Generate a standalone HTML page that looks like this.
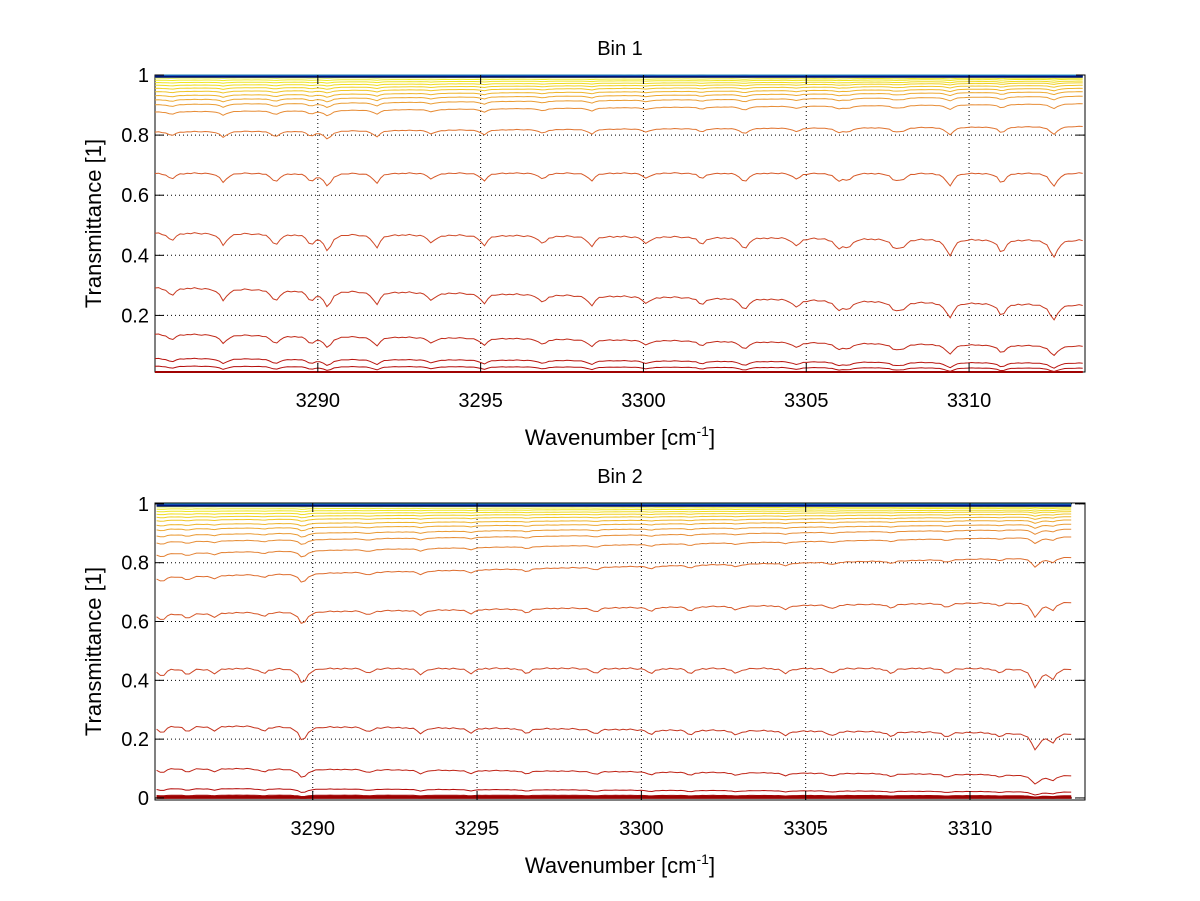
<!DOCTYPE html>
<html><head><meta charset="utf-8">
<style>
html,body{margin:0;padding:0;background:#fff;}
svg{display:block;font-family:"Liberation Sans",sans-serif;}
</style></head>
<body>
<svg id="fig" width="1200" height="901" viewBox="0 0 1200 901">
<rect width="1200" height="901" fill="#fff"/>
</svg>
<script>
// ---- data ----
const xTicks = [3290, 3295, 3300, 3305, 3310];
const yTicksTop = [0.2, 0.4, 0.6, 0.8, 1];
const yTicksBottom = [0, 0.2, 0.4, 0.6, 0.8, 1];
// curve baselines [start, end] (low -> high), Bin 1
const bin1Start = [0, 0.002, 0.006, 0.012, 0.032, 0.058, 0.14, 0.295, 0.477, 0.675, 0.812, 0.878, 0.902, 0.918, 0.932, 0.945, 0.956, 0.966, 0.975, 0.983, 0.99, 0.995, 0.998, 1, 1, 1];
const bin1End   = [0, 0.002, 0.005, 0.01, 0.025, 0.042, 0.099, 0.236, 0.452, 0.675, 0.83, 0.905, 0.93, 0.945, 0.956, 0.966, 0.974, 0.98, 0.986, 0.99, 0.994, 0.997, 0.999, 1, 1, 1];
// Bin 2
const bin2Start = [0, 0.002, 0.005, 0.01, 0.033, 0.103, 0.248, 0.442, 0.628, 0.753, 0.832, 0.872, 0.895, 0.915, 0.93, 0.945, 0.956, 0.966, 0.975, 0.983, 0.99, 0.995, 0.998, 1, 1, 1];
const bin2End   = [0, 0.002, 0.004, 0.008, 0.021, 0.078, 0.221, 0.442, 0.668, 0.82, 0.889, 0.915, 0.932, 0.946, 0.957, 0.966, 0.974, 0.98, 0.986, 0.99, 0.994, 0.997, 0.999, 1, 1, 1];
// absorption lines (wavenumber, relative depth)
const bin1LinePos = [3285.5, 3287.1, 3288.7, 3289.8, 3290.3, 3291.8, 3293.5, 3295.1, 3296.9, 3298.4, 3300.1, 3301.8, 3303.1, 3304.7, 3306.0, 3306.3, 3307.7, 3307.95, 3309.4, 3311.0, 3312.6];
const bin1LineDepth = [0.08, 0.12, 0.12, 0.1, 0.17, 0.13, 0.08, 0.1, 0.08, 0.1, 0.07, 0.07, 0.12, 0.08, 0.1, 0.08, 0.08, 0.08, 0.17, 0.13, 0.18];
const bin2LinePos = [3285.4, 3286.2, 3287.0, 3288.5, 3289.7, 3291.7, 3293.3, 3294.8, 3296.5, 3298.6, 3300.3, 3301.5, 3302.9, 3304.4, 3305.8, 3307.6, 3309.3, 3310.9, 3312.0, 3312.5];
const bin2LineDepth = [0.08, 0.06, 0.05, 0.05, 0.16, 0.05, 0.06, 0.05, 0.05, 0.05, 0.05, 0.05, 0.05, 0.05, 0.05, 0.05, 0.05, 0.04, 0.2, 0.1];
// small ripple (read approx)
const ripple = [0.02,-0.01,0.03,0.0,-0.02,0.02,0.01,-0.01,0.03,0.0,0.02,-0.02,0.01,0.03,-0.01,0.0,0.02,0.01,-0.02,0.02,0.0,0.03,-0.01,0.01,0.02,-0.02,0.0,0.03,0.01,-0.01];

// colour palette stops (level -> colour), style only
const colStops = [[0,[150,0,0]],[0.02,[180,10,10]],[0.1,[192,40,24]],[0.3,[200,60,34]],[0.5,[208,76,40]],[0.7,[216,92,40]],[0.82,[224,116,48]],[0.9,[232,144,56]],[0.94,[238,176,48]],[0.97,[240,216,32]],[0.99,[236,240,40]],[0.999,[160,220,120]]];
const topColors = ['rgb(40,170,220)','rgb(20,80,200)','rgb(0,20,120)'];

const NS = 'http://www.w3.org/2000/svg';
const svg = document.getElementById('fig');
function mk(tag, attrs, parent){ const e=document.createElementNS(NS,tag); for(const k in attrs) e.setAttribute(k,attrs[k]); (parent||svg).appendChild(e); return e; }

function levelColor(v){
  for(let i=1;i<colStops.length;i++){
    if(v<=colStops[i][0]){
      const a=colStops[i-1], b=colStops[i]; const f=(v-a[0])/(b[0]-a[0]);
      const c=a[1].map((x,j)=>Math.round(x+(b[1][j]-x)*f));
      return `rgb(${c[0]},${c[1]},${c[2]})`;
    }
  }
  const c=colStops[colStops.length-1][1]; return `rgb(${c[0]},${c[1]},${c[2]})`;
}

function drawPanel(cfg){
  const {L,R,T,B,xmin,xmax,ymin,ymax,title,yTicks,starts,ends,linePos,lineDepth,dataMin,dataMax,name} = cfg;
  const g = mk('g',{});
  
  
  const sx = v => L + (v-xmin)/(xmax-xmin)*(R-L);
  const sy = v => B - (v-ymin)/(ymax-ymin)*(B-T);
  xTicks.forEach(t=>{ const l=mk('line',{x1:sx(t),x2:sx(t),y1:T,y2:B,stroke:'#000','stroke-width':1,'stroke-dasharray':'1,3'},g);
      });
  yTicks.forEach(t=>{ const l=mk('line',{x1:L,x2:R,y1:sy(t),y2:sy(t),stroke:'#000','stroke-width':1,'stroke-dasharray':'1,3'},g);
      });
  const box = mk('rect',{x:L,y:T,width:R-L,height:B-T,fill:'none',stroke:'#000','stroke-width':1},g);
   
  const N = starts.length;
  const step = 0.11;
  let topIdx = 0;
  for(let i=0;i<N;i++){
    const pts=[];
    let k=0;
    for(let x=dataMin; x<=dataMax+1e-9; x+=step, k++){
      const f=(x-dataMin)/(dataMax-dataMin);
      const base = starts[i] + (ends[i]-starts[i])*f;
      let a = ripple[k % ripple.length]*0.25;
      for(let j=0;j<linePos.length;j++){ const d=(x-linePos[j])/0.13; a += lineDepth[j]/(1+d*d); }
      const y = base<=0 ? 0 : Math.pow(base, 1+a);
      pts.push(sx(x).toFixed(1)+','+sy(Math.max(y,ymin)).toFixed(1));
    }
    const lvl=(starts[i]+ends[i])/2;
    let col, w=1, yoff=0;
    if(lvl>=1){ col = topColors[Math.min(topIdx,topColors.length-1)]; topIdx++; w=2; yoff=topIdx*0.6; }
    else if(lvl<0.005){ w=2; col = levelColor(lvl); }
    else col = levelColor(lvl);
    const p = mk('polyline',{points:pts.join(' '),fill:'none',stroke:col,'stroke-width':w,transform:`translate(0,${yoff})`},g);
    
    
  }
  xTicks.forEach(t=>{ const x=sx(t);
    mk('line',{x1:x,x2:x,y1:B,y2:B-9,stroke:'#000'},g); mk('line',{x1:x,x2:x,y1:T,y2:T+9,stroke:'#000'},g);
    const tx=mk('text',{x:x,y:B+35,'font-size':20,'text-anchor':'middle',fill:'#000'},g); tx.textContent=t;
      });
  yTicks.forEach(t=>{ const y=sy(t);
    mk('line',{x1:L,x2:L+9,y1:y,y2:y,stroke:'#000'},g); mk('line',{x1:R,x2:R-9,y1:y,y2:y,stroke:'#000'},g);
    const tx=mk('text',{x:L-6,y:y+7,'font-size':20,'text-anchor':'end',fill:'#000'},g); tx.textContent=t;
      });
  const ti=mk('text',{x:(L+R)/2,y:T-20,'font-size':20,'text-anchor':'middle',fill:'#000'},g); ti.textContent=title;
   
  const xl=mk('text',{x:(L+R)/2,y:B+73,'font-size':22,'text-anchor':'middle',fill:'#000'},g);
  xl.innerHTML='Wavenumber [cm<tspan dy="-9" font-size="14">-1</tspan><tspan dy="9">]</tspan>';
   
  const yl=mk('text',{x:0,y:0,'font-size':22,'text-anchor':'middle',fill:'#000',transform:`translate(101,${(T+B)/2}) rotate(-90)`},g);
  yl.textContent='Transmittance [1]';
   
}

drawPanel({name:'bin1-panel',L:155,R:1085,T:75,B:372,xmin:3285.0,xmax:3313.56,ymin:0.0117,ymax:1.0,title:'Bin 1',
  yTicks:yTicksTop,starts:bin1Start,ends:bin1End,linePos:bin1LinePos,lineDepth:bin1LineDepth,dataMin:3285.0,dataMax:3313.56});
drawPanel({name:'bin2-panel',L:155,R:1085,T:503,B:800,xmin:3285.2,xmax:3313.5,ymin:-0.007,ymax:1.003,title:'Bin 2',
  yTicks:yTicksBottom,starts:bin2Start,ends:bin2End,linePos:bin2LinePos,lineDepth:bin2LineDepth,dataMin:3285.25,dataMax:3313.1});
</script>
</body></html>
